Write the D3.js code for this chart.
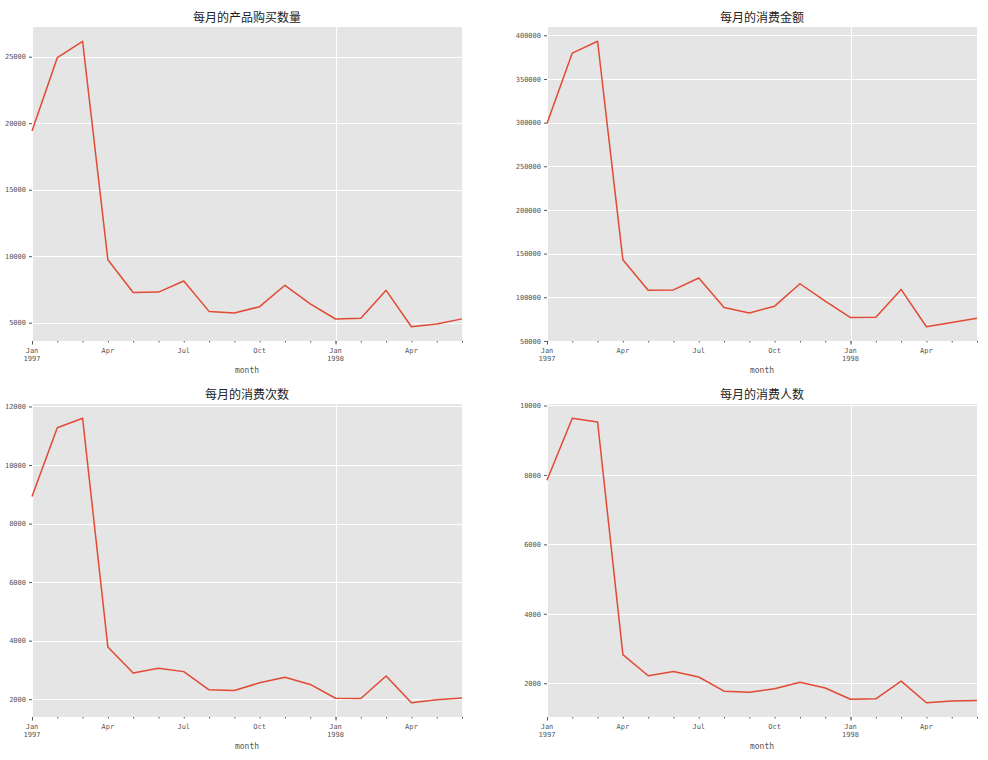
<!DOCTYPE html>
<html>
<head>
<meta charset="utf-8">
<script src="https://cdn.jsdelivr.net/npm/d3@7"></script>
<style>
  html, body { margin: 0; padding: 0; background: #ffffff; }
  svg { display: block; }
</style>
</head>
<body>
<svg id="chart" width="988" height="760"></svg>
<script>
// ---- data ----
const months = ["1997-01","1997-02","1997-03","1997-04","1997-05","1997-06","1997-07","1997-08","1997-09",
                "1997-10","1997-11","1997-12","1998-01","1998-02","1998-03","1998-04","1998-05","1998-06"];
const productQty  = [19416, 24921, 26159, 9729, 7275, 7301, 8131, 5851, 5729, 6203, 7812, 6418, 5278, 5340, 7431, 4697, 4903, 5287];
const amount      = [299060, 379590, 393155, 142824, 107933, 108396, 122079, 88368, 81949, 89781, 115449, 95577, 76757, 77097, 108970, 66232, 70990, 76065];
const orderCount  = [8928, 11272, 11598, 3781, 2895, 3054, 2942, 2320, 2296, 2562, 2750, 2504, 2032, 2026, 2793, 1878, 1985, 2043];
const userCount   = [7846, 9633, 9524, 2822, 2214, 2339, 2180, 1772, 1739, 1839, 2028, 1864, 1537, 1551, 2060, 1437, 1488, 1506];

const titles = ["每月的产品购买数量", "每月的消费金额", "每月的消费次数", "每月的消费人数"];
const yTicks1 = [5000, 10000, 15000, 20000, 25000];
const yTicks2 = [50000, 100000, 150000, 200000, 250000, 300000, 350000, 400000];
const yTicks3 = [2000, 4000, 6000, 8000, 10000, 12000];
const yTicks4 = [2000, 4000, 6000, 8000, 10000];
// x tick labels: [month index, line1, line2, major?]
const xTickLabels = [[0, "Jan", "1997", true], [3, "Apr", "", false], [6, "Jul", "", false], [9, "Oct", "", false],
                     [12, "Jan", "1998", true], [15, "Apr", "", false]];
const xLabel = "month";

// ---- layout ----
const svg = d3.select("#chart");
const panels = [
  { values: productQty, ticks: yTicks1, title: titles[0], x0: 32,  x1: 462, y0: 27,  y1: 341 },
  { values: amount,     ticks: yTicks2, title: titles[1], x0: 547, x1: 977, y0: 27,  y1: 341 },
  { values: orderCount, ticks: yTicks3, title: titles[2], x0: 32,  x1: 462, y0: 404, y1: 717 },
  { values: userCount,  ticks: yTicks4, title: titles[3], x0: 547, x1: 977, y0: 404, y1: 717 }
];

const tickFont = "'DejaVu Sans Mono', 'Liberation Mono', monospace";
const cjkFont = "'Noto Sans CJK SC', 'Noto Sans', sans-serif";

panels.forEach(p => {
  const g = svg.append("g");
  const x = d3.scaleLinear().domain([0, months.length - 1]).range([p.x0, p.x1]);
  const mn = d3.min(p.values), mx = d3.max(p.values), pad = (mx - mn) * 0.05;
  const y = d3.scaleLinear().domain([mn - pad, mx + pad]).range([p.y1, p.y0]);

  // background
  g.append("rect").attr("x", p.x0).attr("y", p.y0)
    .attr("width", p.x1 - p.x0).attr("height", p.y1 - p.y0).attr("fill", "#E5E5E5");

  // horizontal grid
  g.selectAll(".hg").data(p.ticks).enter().append("line")
    .attr("x1", p.x0).attr("x2", p.x1)
    .attr("y1", d => Math.round(y(d)) + 0.5).attr("y2", d => Math.round(y(d)) + 0.5)
    .attr("stroke", "#ffffff").attr("stroke-width", 1);
  // vertical grid at major (year) ticks
  g.selectAll(".vg").data(xTickLabels.filter(t => t[3])).enter().append("line")
    .attr("x1", d => Math.round(x(d[0])) + 0.5).attr("x2", d => Math.round(x(d[0])) + 0.5)
    .attr("y1", p.y0).attr("y2", p.y1)
    .attr("stroke", "#ffffff").attr("stroke-width", 1);

  // y axis
  const yAxis = d3.axisLeft(y).tickValues(p.ticks).tickSize(3).tickPadding(3).tickFormat(d3.format("d"));
  const ya = g.append("g").attr("transform", `translate(${p.x0},0)`).call(yAxis);
  ya.select(".domain").remove();
  ya.selectAll("line").attr("stroke", "#555555");
  ya.selectAll("text").attr("fill", "#555555").style("font-family", tickFont).style("font-size", "7px");

  // x axis: minor ticks every month
  const xMinor = d3.axisBottom(x).tickValues(d3.range(months.length)).tickSize(1.5).tickFormat("");
  const xm = g.append("g").attr("transform", `translate(0,${p.y1})`).call(xMinor);
  xm.select(".domain").remove();
  xm.selectAll("line").attr("stroke", "#555555");
  const xMajor = d3.axisBottom(x).tickValues(xTickLabels.filter(t => t[3]).map(t => t[0])).tickSize(3.5).tickFormat("");
  const xM = g.append("g").attr("transform", `translate(0,${p.y1})`).call(xMajor);
  xM.select(".domain").remove();
  xM.selectAll("line").attr("stroke", "#555555");

  // x tick labels
  xTickLabels.forEach(t => {
    g.append("text").attr("x", x(t[0])).attr("y", p.y1 + 11.5)
      .attr("text-anchor", "middle").attr("fill", "#555555")
      .style("font-family", tickFont).style("font-size", "7px").text(t[1]);
    if (t[2]) {
      g.append("text").attr("x", x(t[0])).attr("y", p.y1 + 20)
        .attr("text-anchor", "middle").attr("fill", "#555555")
        .style("font-family", tickFont).style("font-size", "7px").text(t[2]);
    }
  });

  // x label
  g.append("text").attr("x", (p.x0 + p.x1) / 2).attr("y", p.y1 + 32)
    .attr("text-anchor", "middle").attr("fill", "#555555")
    .style("font-family", tickFont).style("font-size", "8px").text(xLabel);

  // title
  g.append("text").attr("x", (p.x0 + p.x1) / 2).attr("y", p.y0 - 5)
    .attr("text-anchor", "middle").attr("fill", "#222222")
    .style("font-family", cjkFont).style("font-size", "12px").text(p.title);

  // line
  const line = d3.line().x((d, i) => x(i)).y(d => y(d));
  g.append("path").datum(p.values).attr("d", line)
    .attr("fill", "none").attr("stroke", "#E24A33").attr("stroke-width", 1.5)
    .attr("stroke-linejoin", "round");
});
</script>
</body>
</html>
